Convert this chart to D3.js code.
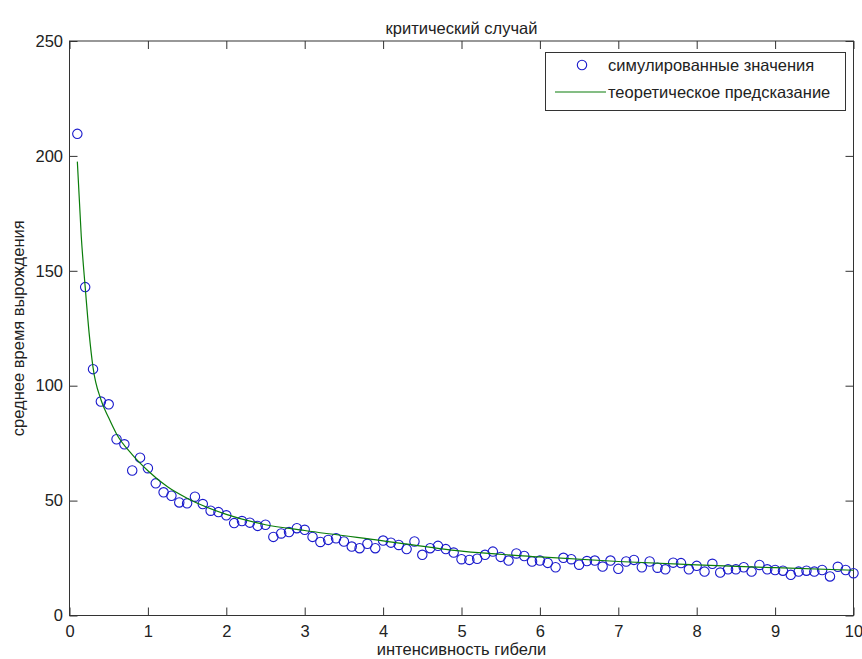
<!DOCTYPE html>
<html>
<head>
<meta charset="utf-8">
<script src="https://cdn.jsdelivr.net/npm/d3@7"></script>
<style>
  body { margin: 0; background: #fff; }
  svg { display: block; font-family: "Liberation Sans", Arial, sans-serif; }
  .tick text { font-size: 16.5px; fill: #222; }
</style>
</head>
<body>
<svg id="chart" width="862" height="659"></svg>
<script>
const width = 862;
const height = 659;
const margin = { left: 69.5, top: 41, right: 8.5, bottom: 43.5 };

// death intensity (x) and simulated mean extinction time (circles)
const intensity = [
  0.1, 0.2, 0.3, 0.4, 0.5, 0.6, 0.7, 0.8, 0.9, 1.0,
  1.1, 1.2, 1.3, 1.4, 1.5, 1.6, 1.7, 1.8, 1.9, 2.0,
  2.1, 2.2, 2.3, 2.4, 2.5, 2.6, 2.7, 2.8, 2.9, 3.0,
  3.1, 3.2, 3.3, 3.4, 3.5, 3.6, 3.7, 3.8, 3.9, 4.0,
  4.1, 4.2, 4.3, 4.4, 4.5, 4.6, 4.7, 4.8, 4.9, 5.0,
  5.1, 5.2, 5.3, 5.4, 5.5, 5.6, 5.7, 5.8, 5.9, 6.0,
  6.1, 6.2, 6.3, 6.4, 6.5, 6.6, 6.7, 6.8, 6.9, 7.0,
  7.1, 7.2, 7.3, 7.4, 7.5, 7.6, 7.7, 7.8, 7.9, 8.0,
  8.1, 8.2, 8.3, 8.4, 8.5, 8.6, 8.7, 8.8, 8.9, 9.0,
  9.1, 9.2, 9.3, 9.4, 9.5, 9.6, 9.7, 9.8, 9.9, 10.0
];
const simulated = [
  209.6, 142.9, 107.2, 93.1, 91.9, 76.7, 74.5, 63.1, 68.7, 64.1,
  57.5, 53.6, 52.1, 49.2, 48.8, 51.7, 48.5, 45.6, 45.0, 43.6,
  40.2, 41.1, 40.4, 39.0, 39.5, 34.2, 35.7, 36.3, 38.0, 37.3,
  34.2, 32.0, 32.9, 33.6, 32.2, 30.0, 29.3, 31.2, 29.3, 32.6,
  31.7, 30.7, 28.9, 32.2, 26.4, 29.3, 30.3, 28.9, 27.4, 24.5,
  24.2, 24.7, 26.4, 27.8, 25.5, 23.9, 27.0, 25.9, 23.5, 23.9,
  22.9, 21.0, 25.1, 24.5, 22.1, 23.7, 23.9, 21.3, 23.9, 20.3,
  23.5, 24.2, 21.0, 23.5, 20.8, 20.1, 23.0, 22.8, 20.1, 21.6,
  19.1, 22.5, 18.7, 20.1, 20.1, 21.0, 19.1, 22.0, 20.1, 19.8,
  19.5, 17.7, 19.1, 19.5, 19.1, 19.8, 17.0, 21.2, 19.8, 18.4
];

// theoretical prediction
const theoryX = [0.1, 0.15, 0.2, 0.25, 0.3, 0.4, 0.5, 0.6, 0.8, 1, 1.25, 1.5, 2, 2.5, 3, 4, 5, 6, 7, 8, 9, 10];
const theoryY = [197.5, 165, 143, 123, 108, 94, 86, 79, 70, 63, 56, 51, 44, 39.5, 37, 32.5, 28, 25.5, 23.5, 22, 20.8, 19.7];

const xTicks = [0, 1, 2, 3, 4, 5, 6, 7, 8, 9, 10];
const yTicks = [0, 50, 100, 150, 200, 250];

const title = "критический случай";
const xLabel = "интенсивность гибели";
const yLabel = "среднее время вырождения";
const legendLabels = ["симулированные значения", "теоретическое предсказание"];

const svg = d3.select("svg#chart");
const x = d3.scaleLinear().domain([0, 10]).range([margin.left, width - margin.right]);
const y = d3.scaleLinear().domain([0, 250]).range([height - margin.bottom, margin.top]);

const axisColor = "#333";
const textColor = "#222";
const fontSize = 16.5;
const tick = 8;

// axes, ticks pointing inward on all four sides
svg.append("g")
  .attr("transform", `translate(0,${y(0)})`)
  .call(d3.axisBottom(x).tickValues(xTicks).tickSize(-tick).tickPadding(9.5).tickSizeOuter(0));
svg.append("g")
  .attr("transform", `translate(${x(0)},0)`)
  .call(d3.axisLeft(y).tickValues(yTicks).tickSize(-tick).tickPadding(6.5).tickSizeOuter(0));
svg.append("g")
  .attr("transform", `translate(0,${y(250)})`)
  .call(d3.axisTop(x).tickValues(xTicks).tickSize(-tick).tickFormat("").tickSizeOuter(0));
svg.append("g")
  .attr("transform", `translate(${x(10)},0)`)
  .call(d3.axisRight(y).tickValues(yTicks).tickSize(-tick).tickFormat("").tickSizeOuter(0));

svg.selectAll(".domain").remove();
svg.selectAll(".tick line").attr("stroke", axisColor);

svg.append("rect")
  .attr("x", x(0)).attr("y", y(250))
  .attr("width", x(10) - x(0)).attr("height", y(0) - y(250))
  .attr("fill", "none").attr("stroke", axisColor);

// simulated points
svg.append("g")
  .selectAll("circle")
  .data(intensity)
  .join("circle")
  .attr("cx", (d) => x(d))
  .attr("cy", (_, i) => y(simulated[i]))
  .attr("r", 4.7)
  .attr("fill", "none")
  .attr("stroke", "#1a1acc")
  .attr("stroke-width", 1.1);

// theoretical curve
const line = d3.line()
  .x((d) => x(d))
  .y((_, i) => y(theoryY[i]))
  .curve(d3.curveMonotoneX);
svg.append("path")
  .attr("d", line(theoryX))
  .attr("fill", "none")
  .attr("stroke", "#0a7d0a")
  .attr("stroke-width", 1.2);

// labels
svg.append("text")
  .attr("x", (x(0) + x(10)) / 2).attr("y", 34)
  .attr("text-anchor", "middle").attr("font-size", fontSize).attr("fill", textColor)
  .text(title);
svg.append("text")
  .attr("x", (x(0) + x(10)) / 2).attr("y", 655)
  .attr("text-anchor", "middle").attr("font-size", fontSize).attr("fill", textColor)
  .text(xLabel);
svg.append("text")
  .attr("transform", `translate(24,${(y(0) + y(250)) / 2}) rotate(-90)`)
  .attr("text-anchor", "middle").attr("font-size", fontSize).attr("fill", textColor)
  .text(yLabel);

// legend
const legend = svg.append("g");
legend.append("rect")
  .attr("x", 545.5).attr("y", 52.5).attr("width", 300).attr("height", 58)
  .attr("fill", "#fff").attr("stroke", axisColor);
legend.append("circle")
  .attr("cx", 582).attr("cy", 65).attr("r", 4.7)
  .attr("fill", "none").attr("stroke", "#1a1acc").attr("stroke-width", 1.1);
legend.append("line")
  .attr("x1", 555).attr("x2", 606).attr("y1", 92).attr("y2", 92)
  .attr("stroke", "#0a7d0a").attr("stroke-width", 1.2);
legend.selectAll("text")
  .data(legendLabels)
  .join("text")
  .attr("x", 608)
  .attr("y", (_, i) => 71 + i * 26.5)
  .attr("font-size", fontSize)
  .attr("fill", textColor)
  .text((d) => d);
</script>
</body>
</html>
